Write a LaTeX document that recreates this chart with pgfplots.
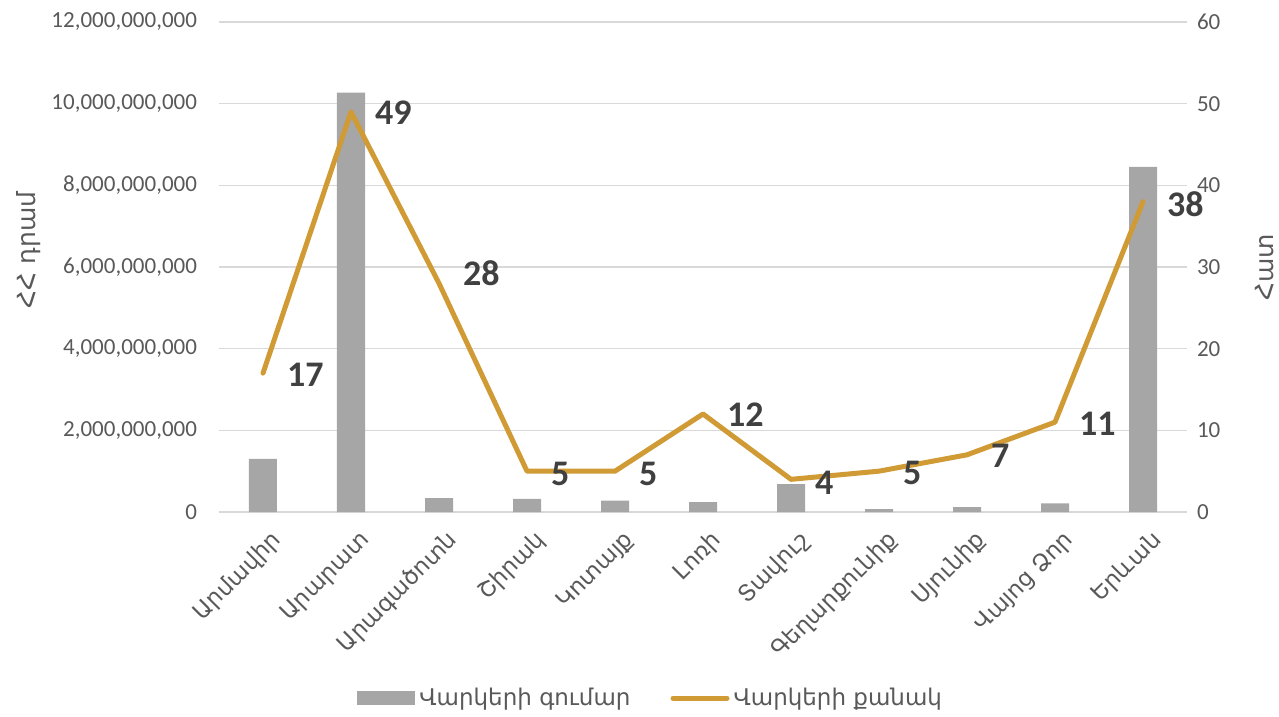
\documentclass[border=0pt]{standalone}
\usepackage{fontspec}
\setmainfont{Carlito}
\newfontfamily\arm{DejaVu Sans}
\usepackage{pgfplots}
\usepackage{pgfplotstable}
\pgfplotsset{compat=1.18}

\definecolor{barc}{HTML}{A6A6A6}
\definecolor{linec}{HTML}{D09A34}
\definecolor{gridc}{HTML}{D9D9D9}
\definecolor{tickc}{HTML}{595959}
\definecolor{labc}{HTML}{404040}

% x  amount (AMD)  count  label y-shift (pt)
\pgfplotstableread{
x  amount       count  dy
0  1300000000   17     -1
1  10270000000  49     -0.5
2  340000000    28     5
3  320000000    5      -1.5
4  280000000    5      -1.5
5  240000000    12     -0.5
6  680000000    4      -1.5
7  70000000     5      -1
8  120000000    7      -0.5
9  210000000    11     -1
10 8450000000   38     -1.5
}\loans

\begin{document}
\begin{tikzpicture}
\useasboundingbox (-109.5pt,-102.5pt) rectangle (530pt,256pt);

% bars, left axis
\begin{axis}[
    at={(0,0)}, anchor=south west,
    scale only axis,
    width  = 484pt,
    height = 245pt,
    xmin = -0.5, xmax = 10.5,
    ymin = 0,    ymax = 12000000000,
    xtick = {0,...,10},
    xticklabels = {Արմավիր, Արարատ, Արագածոտն, Շիրակ, Կոտայք, Լոռի, Տավուշ,
                   Գեղարքունիք, Սյունիք, Վայոց Ձոր, Երևան},
    x tick label style = {font=\arm\fontsize{11.5}{13}\selectfont, text=tickc,
                          rotate=45, anchor=east, yshift=-14pt},
    ytick = {0,2000000000,4000000000,6000000000,8000000000,10000000000,12000000000},
    scaled y ticks = false,
    /pgf/number format/fixed,
    /pgf/number format/precision = 0,
    /pgf/number format/1000 sep = {,},
    /pgf/number format/assume math mode = true,
    y tick label style = {font=\fontsize{11.5}{13}\selectfont, text=tickc, xshift=-7.5pt},
    major tick length = 0,
    axis line style = {draw=none},
    ymajorgrids,
    grid style = {gridc, line width=0.8pt},
    ylabel = {ՀՀ դրամ},
    every axis y label/.style = {at={(axis description cs:-0.197,0.535)},
                                 rotate=90, anchor=center,
                                 font=\arm\fontsize{12.5}{14}\selectfont, text=tickc},
    legend style = {at={(axis description cs:0.447,-0.38)}, anchor=center,
                    draw=none, fill=none, legend columns=2,
                    font=\arm\fontsize{11.5}{13}\selectfont, text=tickc,
                    /tikz/every even column/.append style={column sep=18pt}},
]
    \addplot[ybar, bar width=14pt, fill=barc, draw=none,
             legend image code/.code={\fill[barc] (-3pt,-3.5pt) rectangle (26pt,3.5pt);}]
        table[x=x, y=amount] {\loans};
    \addlegendentry{Վարկերի գումար}
    \addlegendimage{legend image code/.code={\draw[linec, line width=2.5pt, line cap=round] (-2pt,0pt) -- (25pt,0pt);}}
    \addlegendentry{Վարկերի քանակ}
\end{axis}

% line, right axis
\begin{axis}[
    at={(0,0)}, anchor=south west,
    scale only axis,
    width  = 484pt,
    height = 245pt,
    xmin = -0.5, xmax = 10.5,
    ymin = 0,    ymax = 60,
    ytick = {0,10,...,60},
    axis y line* = right,
    axis x line = none,
    axis line style = {draw=none},
    major tick length = 0,
    /pgf/number format/assume math mode = true,
    y tick label style = {font=\fontsize{11.5}{13}\selectfont, text=tickc, xshift=1.5pt},
    ylabel = {Հատ},
    every axis y label/.style = {at={(axis description cs:1.0806,0.5)},
                                 rotate=90, anchor=center,
                                 font=\arm\fontsize{12.5}{14}\selectfont, text=tickc},
    clip = false,
]
    \addplot[linec, line width=2.5pt, line join=round, line cap=round, mark=none,
             point meta=explicit,
             visualization depends on={\thisrow{dy} \as \labdy},
             nodes near coords,
             nodes near coords style={anchor=west, xshift=7.5pt, yshift=\labdy pt,
                                      font=\fontsize{18}{20}\selectfont\bfseries,
                                      text=labc}]
        table[x=x, y=count, meta=count] {\loans};
\end{axis}
\end{tikzpicture}
\end{document}
